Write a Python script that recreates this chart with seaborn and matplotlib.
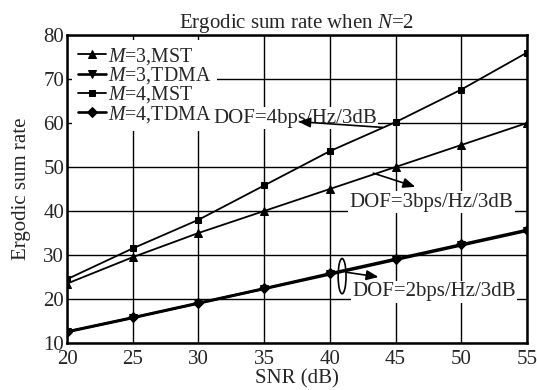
import numpy as np
import pandas as pd
import matplotlib
matplotlib.use("Agg")
import matplotlib.pyplot as plt
import seaborn as sns
from matplotlib.patches import Ellipse

# -----------------------------
# Data
# -----------------------------
snr = [20, 25, 30, 35, 40, 45, 50, 55]
m3_mst = [23.5, 29.5, 35.0, 40.0, 45.0, 50.0, 55.0, 60.0]
m3_tdma = [12.5, 15.7, 19.0, 22.3, 25.6, 28.9, 32.2, 35.5]
m4_mst = [24.5, 31.5, 38.0, 45.8, 53.6, 60.2, 67.6, 76.0]
m4_tdma = [12.6, 15.8, 19.1, 22.4, 25.8, 29.1, 32.4, 35.7]

labels = ["$M$=3,MST", "$M$=3,TDMA", "$M$=4,MST", "$M$=4,TDMA"]
series = [m3_mst, m3_tdma, m4_mst, m4_tdma]
markers = ["^", "v", "s", "D"]
msizes = [6, 6, 4, 5]
widths = [1.3, 1.9, 1.3, 1.9]

# -----------------------------
# Style
# -----------------------------
sns.set_theme(style="white")
plt.rcParams["font.family"] = ["Liberation Serif", "DejaVu Serif"]
plt.rcParams["mathtext.fontset"] = "custom"
plt.rcParams["mathtext.it"] = "Liberation Serif:italic"
plt.rcParams["mathtext.rm"] = "Liberation Serif"
fs = 15

fig = plt.figure(figsize=(5.37, 3.90), dpi=100)
ax = fig.add_axes([0.1248, 0.1205, 0.8566, 0.7898])

for lab, vals, mk, ms, lw in zip(labels, series, markers, msizes, widths):
    sns.lineplot(x=snr, y=vals, ax=ax, color="black", lw=lw, marker=mk,
                 markersize=ms, markeredgecolor="black", label=lab, zorder=3)

ax.set_xlim(20, 55)
ax.set_ylim(10, 80)
ax.set_xticks(snr)
ax.set_yticks(range(10, 81, 10))
ax.tick_params(labelsize=fs, length=0)
ax.tick_params(axis="x", pad=5)
ax.tick_params(axis="y", pad=2)
ax.grid(True, color="black", lw=1.0)
for sp in ax.spines.values():
    sp.set_color("black")
    sp.set_linewidth(1.8)
    sp.set_zorder(5)

ax.set_title("Ergodic sum rate when $N$=2", fontsize=fs, pad=5)
ax.set_xlabel("SNR (dB)", fontsize=fs, labelpad=0)
ax.set_ylabel("Ergodic sum rate", fontsize=fs, labelpad=9)

leg = ax.legend(loc="upper left", fontsize=14.3, frameon=True, framealpha=1,
                facecolor="white", edgecolor="none", handlelength=1.4,
                handletextpad=0.1, labelspacing=-0.08, borderpad=0.3,
                borderaxespad=0.25)
leg.get_frame().set_linewidth(0)
leg.set_zorder(4)

# -----------------------------
# Annotations
# -----------------------------
box = dict(facecolor="white", edgecolor="none", pad=1)
ax.text(31.1, 61.1, "DOF=4bps/Hz/3dB", fontsize=fs, va="center", ha="left",
        bbox=box, zorder=6)
ax.text(41.5, 42.0, "DOF=3bps/Hz/3dB", fontsize=fs, va="center", ha="left",
        bbox=box, zorder=6)
ax.text(41.7, 21.6, "DOF=2bps/Hz/3dB", fontsize=fs, va="center", ha="left",
        bbox=box, zorder=6)

arrow = dict(arrowstyle="-|>,head_length=0.6,head_width=0.25", color="black",
             lw=1.2, shrinkA=0, shrinkB=0)
ax.annotate("", xy=(37.6, 60.3), xytext=(44.0, 59.0), arrowprops=arrow, zorder=7)
ax.annotate("", xy=(46.5, 45.5), xytext=(43.3, 48.6), arrowprops=arrow, zorder=7)
ax.annotate("", xy=(43.7, 25.0), xytext=(41.2, 26.1), arrowprops=arrow, zorder=7)

ax.add_patch(Ellipse((40.93, 25.2), width=0.6, height=8.0, fill=False,
                     edgecolor="black", lw=1.2, zorder=7))

fig.savefig("out.png", dpi=100)
